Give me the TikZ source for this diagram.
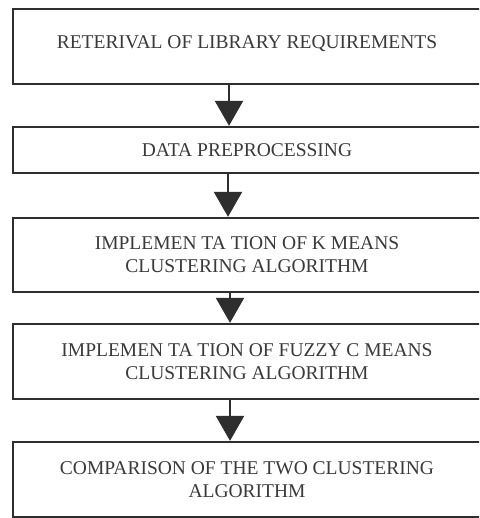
\documentclass[tikz,border=0pt]{standalone}
\usepackage{fontspec}
\setmainfont{Liberation Serif}
\usetikzlibrary{arrows.meta}
\definecolor{ink}{HTML}{2E2E2E}
\definecolor{txt}{HTML}{3A3A3A}
\begin{document}
\begin{tikzpicture}[x=1pt,y=-1pt,
  box/.style={draw=ink, line width=2.3pt, rectangle, minimum width=468pt,
    inner sep=0pt, align=center, text=txt,
    font=\fontsize{19.5}{23}\selectfont},
  flow/.style={draw=ink, line width=2.3pt,
    -{Triangle[width=28pt,length=25pt]}}]
\fill[white] (0,0) rectangle (479,518);
\useasboundingbox (0,0) rectangle (479,518);
\clip (0,0) rectangle (479,518);
\node[box, minimum height=75pt] (b1) at (247,46.5)
  {\raisebox{8pt}{RETERIVAL OF LIBRARY REQUIREMENTS}};
\node[box, minimum height=46pt] (b2) at (247,150) {DATA PREPROCESSING};
\node[box, minimum height=74pt] (b3) at (247,255)
  {IMPLEMEN TA TION OF K MEANS\\CLUSTERING ALGORITHM};
\node[box, minimum height=75pt] (b4) at (247,361.5)
  {IMPLEMEN TA TION OF FUZZY C MEANS\\CLUSTERING ALGORITHM};
\node[box, minimum height=75pt] (b5) at (247,479.5)
  {COMPARISON OF THE TWO CLUSTERING\\ALGORITHM};
\coordinate (a1) at (229,0);
\coordinate (a2) at (228,0);
\coordinate (a3) at (230,0);
\coordinate (a4) at (230,0);
\draw[flow] (b1.south -| a1) -- (b2.north -| a1);
\draw[flow] (b2.south -| a2) -- (b3.north -| a2);
\draw[flow] (b3.south -| a3) -- (b4.north -| a3);
\draw[flow] (b4.south -| a4) -- (b5.north -| a4);
\end{tikzpicture}
\end{document}
